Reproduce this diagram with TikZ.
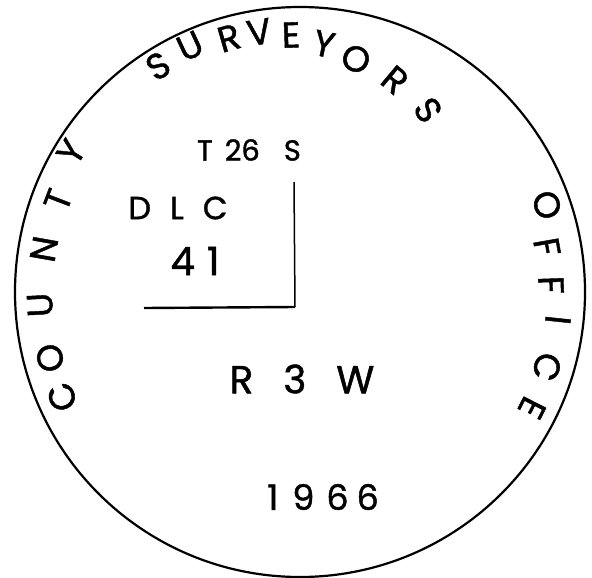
\documentclass[tikz,border=0pt]{standalone}
\usepackage{fontspec}
\setmainfont[FakeBold=1.2]{Poppins}
\usetikzlibrary{positioning}

\begin{document}
\begin{tikzpicture}[x=1pt,y=-1pt,
    rim/.style={circle,draw,line width=2.2pt,minimum size=570pt,inner sep=0pt},
    ltr/.style={inner sep=0pt,font=\fontsize{36}{36}\selectfont},
    txt/.style={inner sep=0pt,font=\fontsize{32}{32}\selectfont},
    tie/.style={line width=2pt}]
  \useasboundingbox (0,0) rectangle (592,578);
  \node[rim] (seal) at (300,292) {};
  % corner of the claim lines
  \coordinate (nend) at (294,182);
  \coordinate (corner) at (295,307);
  \coordinate (wend) at (144,308);
  \draw[tie,line width=1.5pt] (corner) -- (nend);
  \draw[tie,line width=2.4pt] (wend) -- (corner);
  % inner texts
  \node[txt,font=\fontsize{29}{29}\selectfont] (twp) at (249,150) {T\hspace{12pt}26\hspace{24pt}S};
  \node[txt] (dlc) at (178,208) {D\hspace{19pt}L\hspace{19pt}C};
  \node[txt,font=\fontsize{39}{39}\selectfont] (lot) at (195,261) {4\hspace{12pt}1};
  \node[txt,font=\fontsize{39}{39}\selectfont] (rng) at (302,379) {R\hspace{30pt}3\hspace{30pt}W};
  \node[txt,font=\fontsize{35}{35}\selectfont] (year) at (323,497) {1\hspace{14pt}9\hspace{12pt}6\hspace{8pt}6};
  % SURVEYORS
  \node[ltr,rotate=31] (s1) at (158,66) {S};
  \node[ltr,rotate=25] (u1) at (190,46) {U};
  \node[ltr,rotate=16] (r1) at (229,38) {R};
  \node[ltr,rotate=9] (v1) at (259,32) {V};
  \node[ltr,rotate=2] (e1) at (291,35) {E};
  \node[ltr,rotate=-12] (y1) at (324,44) {Y};
  \node[ltr,rotate=-24] (o1) at (356,59) {O};
  \node[ltr,rotate=-40] (r2) at (395,80) {R};
  \node[ltr,rotate=-55] (s2) at (428,110) {S};
  % COUNTY
  \node[ltr,rotate=114] (c1) at (62,397) {C};
  \node[ltr,rotate=105] (o2) at (50,358) {O};
  \node[ltr,rotate=93] (u2) at (40,305) {U};
  \node[ltr,rotate=80] (n1) at (44,249) {N};
  \node[ltr,rotate=69] (t1) at (58,200) {T};
  \node[ltr,rotate=58] (y2) at (71,152) {Y};
  % OFFICE
  \node[ltr,rotate=-71] (o3) at (547,205) {O};
  \node[ltr,rotate=-80] (f1) at (547,247) {F};
  \node[ltr,rotate=-88] (f2) at (551,285) {F};
  \node[ltr,rotate=-96] (i1) at (558,320) {I};
  \node[ltr,rotate=-107] (c2) at (547,367) {C};
  \node[ltr,rotate=-117] (e2) at (532,408) {E};
\end{tikzpicture}
\end{document}
